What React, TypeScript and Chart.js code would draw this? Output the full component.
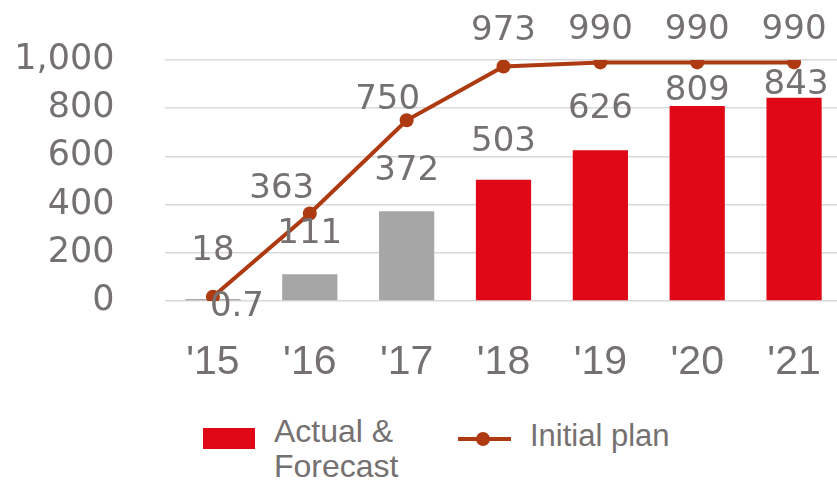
import React, { useEffect, useRef } from "react";
import { Chart, registerables } from "chart.js";

Chart.register(...registerables);

const categories = ["'15", "'16", "'17", "'18", "'19", "'20", "'21"];
const actualForecast = [0.7, 111, 372, 503, 626, 809, 843];
const initialPlan = [18, 363, 750, 973, 990, 990, 990];
const barLabels = ["0.7", "111", "372", "503", "626", "809", "843"];
const planLabels = ["18", "363", "750", "973", "990", "990", "990"];
const yTicks = [0, 200, 400, 600, 800, 1000];

const GRAY_TEXT = "#767171";
const RED = "#E00717";
const GRAY_BAR = "#A6A6A6";
const LINE = "#AE3A12";

// label placement (pixels relative to the mark)
const barLabelOffsets = [
  { dx: 24, dy: 8 },
  { dx: 0, dy: -40 },
  { dx: 0, dy: -40 },
  { dx: 0, dy: -38 },
  { dx: 0, dy: -41 },
  { dx: 0, dy: -15 },
  { dx: 2, dy: -13 },
];
const planLabelOffsets = [
  { dx: 0, dy: -45 },
  { dx: -28, dy: -24 },
  { dx: -19, dy: -20 },
  { dx: 0, dy: -35 },
  { dx: 0, dy: -32 },
  { dx: 0, dy: -32 },
  { dx: 0, dy: -32 },
];

const labelPlugin = {
  id: "valueLabels",
  afterDatasetsDraw(chart: any) {
    const ctx = chart.ctx;
    ctx.save();
    ctx.font = "34px 'DejaVu Sans', Verdana, sans-serif";
    ctx.fillStyle = GRAY_TEXT;
    ctx.textAlign = "center";
    ctx.textBaseline = "middle";
    const barMeta = chart.getDatasetMeta(0);
    barMeta.data.forEach((el: any, i: number) => {
      const o = barLabelOffsets[i];
      ctx.fillText(barLabels[i], el.x + o.dx, el.y + o.dy);
    });
    const lineMeta = chart.getDatasetMeta(1);
    lineMeta.data.forEach((el: any, i: number) => {
      const o = planLabelOffsets[i];
      ctx.fillText(planLabels[i], el.x + o.dx, el.y + o.dy);
    });
    ctx.restore();
  },
};

export default function App() {
  const ref = useRef<HTMLCanvasElement>(null);

  useEffect(() => {
    if (!ref.current) return;
    const chart = new Chart(ref.current, {
      type: "bar",
      data: {
        labels: categories,
        datasets: [
          {
            type: "bar",
            label: "Actual & Forecast",
            data: actualForecast,
            backgroundColor: actualForecast.map((_, i) => (i < 3 ? GRAY_BAR : RED)),
            borderWidth: 0,
            categoryPercentage: 1,
            barPercentage: 0.57,
            minBarLength: 2,
            order: 1,
          },
          {
            type: "line",
            label: "Initial plan",
            data: initialPlan,
            borderColor: LINE,
            backgroundColor: LINE,
            borderWidth: 4,
            pointRadius: 7,
            pointBackgroundColor: LINE,
            pointBorderWidth: 0,
            tension: 0,
            order: 0,
          },
        ],
      } as any,
      options: {
        animation: false,
        responsive: false,
        maintainAspectRatio: false,
        layout: { padding: { top: 60, right: 7.5, left: 0, bottom: 0 } },
        plugins: {
          legend: { display: false },
          tooltip: { enabled: false },
        },
        scales: {
          x: {
            type: "category",
            offset: true,
            grid: {
              display: true,
              drawOnChartArea: false,
              drawTicks: true,
              tickLength: 37,
              color: "rgba(0,0,0,0)",
              tickColor: "rgba(0,0,0,0)",
            },
            border: { display: false },
            ticks: {
              color: GRAY_TEXT,
              font: { family: "'Liberation Sans', Arial, sans-serif", size: 41 },
              padding: 0,
              maxRotation: 0,
              autoSkip: false,
            },
            afterFit: (s: any) => {
              s.height = 99;
            },
          },
          y: {
            min: 0,
            max: 1000,
            afterBuildTicks: (s: any) => {
              s.ticks = yTicks.map((v) => ({ value: v }));
            },
            ticks: {
              color: GRAY_TEXT,
              font: { family: "'DejaVu Sans', Verdana, sans-serif", size: 35 },
              padding: 0,
              callback: (v: any) => Number(v).toLocaleString("en-US"),
            },
            grid: {
              color: "#D9D9D9",
              lineWidth: 1.5,
              drawTicks: true,
              tickLength: 50,
              tickColor: "rgba(0,0,0,0)",
            },
            border: { display: false },
            afterFit: (s: any) => {
              s.width = 164.5;
            },
          },
        },
      } as any,
      plugins: [labelPlugin],
    });
    return () => chart.destroy();
  }, []);

  const sans = "'Liberation Sans', Arial, sans-serif";

  return (
    <div
      style={{
        position: "fixed",
        left: 0,
        top: 0,
        width: 837,
        height: 482,
        overflow: "hidden",
        background: "#fff",
      }}
    >
      <canvas ref={ref} width={850} height={400} style={{ position: "absolute", left: 0, top: 0, width: 850, height: 400 }} />
      <div style={{ position: "absolute", left: 203, top: 428, width: 52, height: 21, background: RED }} />
      <div
        style={{
          position: "absolute",
          left: 274,
          top: 414,
          fontFamily: sans,
          fontSize: 32,
          lineHeight: "35px",
          color: GRAY_TEXT,
        }}
      >
        Actual &amp;
        <br />
        Forecast
      </div>
      <div style={{ position: "absolute", left: 458, top: 437, width: 53, height: 4, background: LINE }} />
      <div
        style={{
          position: "absolute",
          left: 476,
          top: 432,
          width: 14,
          height: 14,
          borderRadius: 7,
          background: LINE,
        }}
      />
      <div
        style={{
          position: "absolute",
          left: 530,
          top: 418,
          fontFamily: sans,
          fontSize: 31,
          lineHeight: "36px",
          color: GRAY_TEXT,
          whiteSpace: "nowrap",
        }}
      >
        Initial plan
      </div>
    </div>
  );
}
